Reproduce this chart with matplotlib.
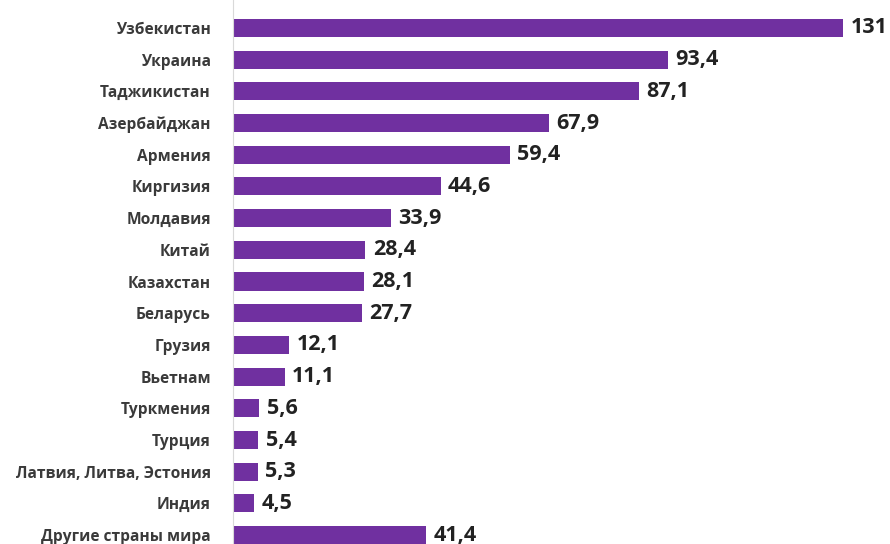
import matplotlib.pyplot as plt

countries = ["Узбекистан", "Украина", "Таджикистан", "Азербайджан", "Армения",
             "Киргизия", "Молдавия", "Китай", "Казахстан", "Беларусь", "Грузия",
             "Вьетнам", "Туркмения", "Турция", "Латвия, Литва, Эстония", "Индия",
             "Другие страны мира"]
values = [131, 93.4, 87.1, 67.9, 59.4, 44.6, 33.9, 28.4, 28.1, 27.7, 12.1,
          11.1, 5.6, 5.4, 5.3, 4.5, 41.4]
value_labels = ["131", "93,4", "87,1", "67,9", "59,4", "44,6", "33,9", "28,4",
                "28,1", "27,7", "12,1", "11,1", "5,6", "5,4", "5,3", "4,5", "41,4"]

plt.rcParams['font.family'] = ['Open Sans', 'DejaVu Sans']

fig = plt.figure(figsize=(8.9, 5.44), dpi=100)
ax = fig.add_axes([233 / 890, 0, 657 / 890, 1])

pos = list(range(len(countries)))
ax.barh(pos, values, height=0.57, color="#7030A0")

for p, v, lab in zip(pos, values, value_labels):
    ax.text(v + 1.6, p, lab, va="center", ha="left", fontsize=15.5,
            fontweight="bold", color="#222222")

ax.set_yticks(pos)
ax.set_yticklabels(countries, fontsize=11.2, fontweight="bold", color="#3a3a3a")
ax.tick_params(axis="y", length=0, pad=16)
ax.set_xticks([])
ax.set_xlim(0, 141.1)
ax.set_ylim(16.28, -0.88)

for s in ["top", "right", "bottom"]:
    ax.spines[s].set_visible(False)
ax.spines["left"].set_color("#d9d9d9")
ax.spines["left"].set_linewidth(0.8)

fig.savefig("out.png", dpi=100)
